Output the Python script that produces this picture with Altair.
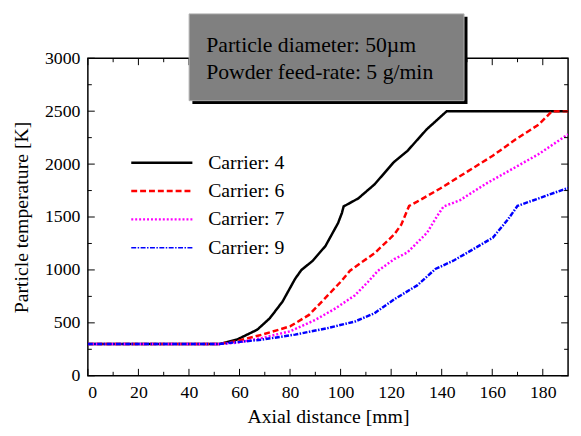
import altair as alt
import pandas as pd

# ---- data ----
series_names = ["Carrier: 4", "Carrier: 6", "Carrier: 7", "Carrier: 9"]

x_c4 = [0, 52, 59, 67, 72, 77, 82, 84.5, 89, 94, 99, 100.5, 101.2, 107, 113.5, 121, 126.5, 134, 142, 190]
t_c4 = [300, 300, 342, 435, 544, 700, 916, 1000, 1087, 1226, 1443, 1537, 1600, 1676, 1810, 2017, 2126, 2327, 2500, 2500]

x_c6 = [0, 52, 59, 69, 80, 87.5, 95, 100.5, 103.7, 108.3, 113.4, 121.2, 124, 127.1, 130.3, 139.4, 149.8, 160.2, 169.3, 178.4, 183.6, 190]
t_c6 = [300, 300, 327, 389, 467, 575, 761, 900, 993, 1072, 1157, 1335, 1428, 1605, 1645, 1769, 1924, 2079, 2234, 2374, 2498, 2500]

x_c7 = [0, 52, 59, 69, 80, 90, 98, 105.7, 110.8, 114.7, 121.2, 126.4, 134.2, 138.1, 140.7, 147.3, 157.6, 168, 178.4, 190]
t_c7 = [300, 300, 312, 358, 420, 528, 637, 761, 886, 990, 1102, 1165, 1351, 1505, 1598, 1660, 1816, 1955, 2095, 2281]

x_c9 = [0, 52, 69, 82, 95, 105.7, 113.4, 121.2, 130.3, 137.5, 144.6, 152.4, 160.2, 166.1, 170, 178.4, 190]
t_c9 = [300, 300, 342, 389, 451, 513, 591, 722, 854, 1009, 1087, 1195, 1304, 1474, 1605, 1676, 1775]

x_major = [0, 20, 40, 60, 80, 100, 120, 140, 160, 180]
x_minor = [10, 30, 50, 70, 90, 110, 130, 150, 170]
y_major = [0, 500, 1000, 1500, 2000, 2500, 3000]
y_minor = [250, 750, 1250, 1750, 2250, 2750]

box_lines = ["Particle diameter: 50\u00b5m", "Powder feed-rate: 5 g/min"]

# ---- styling ----
colors = ["#000000", "#ff0000", "#ff00ff", "#0000ff"]
dashes = [[1, 0], [6, 3], [2, 2], [5, 1.5, 1.5, 1.5]]
widths = [2.5, 2.5, 2.2, 1.6]
FONT = "Liberation Serif"
W, H = 487, 322

rows = []
for name, xs, ts in zip(series_names, [x_c4, x_c6, x_c7, x_c9], [t_c4, t_c6, t_c7, t_c9]):
    for i, (xv, tv) in enumerate(zip(xs, ts)):
        rows.append({"series": name, "x": xv, "T": tv, "o": i})
df = pd.DataFrame(rows)

xscale = alt.Scale(domain=[0, 190], nice=False, zero=False)
yscale = alt.Scale(domain=[0, 3000], nice=False)
xaxis = alt.Axis(values=x_major, format="d", title="Axial distance [mm]", ticks=False, tickSize=0,
                 domain=False, grid=False, labelPadding=8, titlePadding=5)
yaxis = alt.Axis(values=y_major, format="d", title="Particle temperature [K]", ticks=False, tickSize=0,
                 domain=False, grid=False, labelPadding=8, titlePadding=13)

lines = alt.Chart(df).mark_line(clip=True).encode(
    x=alt.X("x:Q", scale=xscale, axis=xaxis),
    y=alt.Y("T:Q", scale=yscale, axis=yaxis),
    color=alt.Color("series:N", scale=alt.Scale(domain=series_names, range=colors), legend=None),
    strokeDash=alt.StrokeDash("series:N", scale=alt.Scale(domain=series_names, range=dashes), legend=None),
    strokeWidth=alt.StrokeWidth("series:N", scale=alt.Scale(domain=series_names, range=widths), legend=None),
    order="o:Q",
)

layers = [lines]

def yticks(vals, ln):
    d = pd.DataFrame({"T": vals})
    a = alt.Chart(d).mark_rule(color="black", strokeWidth=1).encode(
        y=alt.Y("T:Q", scale=yscale, axis=yaxis), x=alt.value(0), x2=alt.value(ln))
    b = alt.Chart(d).mark_rule(color="black", strokeWidth=1).encode(
        y=alt.Y("T:Q", scale=yscale, axis=yaxis), x=alt.value(W), x2=alt.value(W - ln))
    return [a, b]

def xticks(vals, ln):
    d = pd.DataFrame({"x": vals})
    a = alt.Chart(d).mark_rule(color="black", strokeWidth=1).encode(
        x=alt.X("x:Q", scale=xscale, axis=xaxis), y=alt.value(H), y2=alt.value(H - ln))
    b = alt.Chart(d).mark_rule(color="black", strokeWidth=1).encode(
        x=alt.X("x:Q", scale=xscale, axis=xaxis), y=alt.value(0), y2=alt.value(ln))
    return [a, b]

layers += yticks(y_major, 7) + yticks(y_minor, 4) + xticks(x_major, 7) + xticks(x_minor, 4)

# ---- legend (manual) ----
one = pd.DataFrame({"a": [0]})
for i, name in enumerate(series_names):
    yy = 106 + 28.7 * i
    layers.append(alt.Chart(one).mark_rule(color=colors[i], strokeDash=dashes[i], strokeWidth=widths[i]).encode(
        x=alt.value(44), x2=alt.value(106), y=alt.value(yy)))
    layers.append(alt.Chart(one).mark_text(text=name, align="left", baseline="middle", font=FONT,
                                           fontSize=20, color="black").encode(
        x=alt.value(122), y=alt.value(yy)))

# ---- annotation box ----
layers.append(alt.Chart(one).mark_rect(color="black").encode(
    x=alt.value(106), x2=alt.value(385), y=alt.value(-42), y2=alt.value(46.5)))
layers.append(alt.Chart(one).mark_rect(color="#808080", stroke="#b0b0b0", strokeWidth=1).encode(
    x=alt.value(102.7), x2=alt.value(381.5), y=alt.value(-45), y2=alt.value(43)))
for j, txt in enumerate(box_lines):
    layers.append(alt.Chart(one).mark_text(text=txt, align="left", baseline="middle", font=FONT,
                                           fontSize=22, color="black").encode(
        x=alt.value(120), y=alt.value(-13 + 27 * j)))

chart = alt.layer(*layers).properties(
    width=W, height=H,
    autosize=alt.AutoSizeParams(type="none"),
    padding={"left": 81, "top": 48, "right": 5, "bottom": 50},
).configure_view(
    stroke="black", strokeWidth=1.5
).configure_axis(
    labelFont=FONT, titleFont=FONT, labelFontSize=18, titleFontSize=20,
    titleFontWeight="normal", labelColor="black", titleColor="black"
)

chart.save("out.html", embed_options={"renderer": "svg", "actions": False})
